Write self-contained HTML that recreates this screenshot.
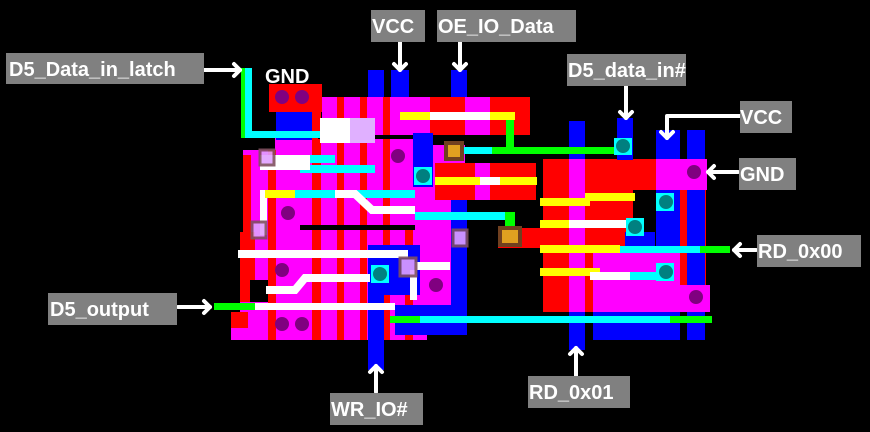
<!DOCTYPE html>
<html><head><meta charset="utf-8"><style>
html,body{margin:0;padding:0;background:#000;width:870px;height:432px;overflow:hidden}
svg{display:block}
.lb{fill:#808080}
.t{font-family:"Liberation Sans",sans-serif;font-weight:bold;font-size:20px;fill:#fff}
</style></head><body>
<svg width="870" height="432" viewBox="0 0 870 432" xmlns="http://www.w3.org/2000/svg">
<rect width="870" height="432" fill="#000"/>
<!-- blue verticals (above block) -->
<rect x="368" y="70" width="16" height="300" fill="#00f"/>
<rect x="391" y="70" width="18" height="30" fill="#00f"/>
<rect x="451" y="70" width="16" height="30" fill="#00f"/>
<!-- LEFT BLOCK base -->
<g>
<rect x="269" y="84" width="53" height="28" fill="#f00"/>
<rect x="322" y="97" width="208" height="38" fill="#f0f"/>
<rect x="430" y="97" width="100" height="38" fill="#f00"/>
<rect x="465" y="97" width="25" height="38" fill="#f0f"/>
<rect x="243" y="150" width="180" height="85" fill="#f0f"/>
<rect x="275" y="135" width="150" height="20" fill="#f0f"/>
<rect x="415" y="145" width="50" height="55" fill="#f0f"/>
<rect x="435" y="163" width="101" height="37" fill="#f00"/>
<rect x="475" y="163" width="15" height="37" fill="#f0f"/>
<rect x="415" y="200" width="50" height="40" fill="#f0f"/>
<rect x="240" y="232" width="225" height="80" fill="#f0f"/>
<rect x="231" y="312" width="196" height="28" fill="#f0f"/>
<rect x="231" y="312" width="17" height="16" fill="#f00"/>
<rect x="240" y="232" width="15" height="70" fill="#f00"/>
<rect x="243" y="155" width="8" height="80" fill="#f00"/>
<!-- red stripes -->
<rect x="268" y="150" width="8" height="190" fill="#f00"/>
<rect x="312" y="97" width="9" height="243" fill="#f00"/>
<rect x="337" y="97" width="7" height="243" fill="#f00"/>
<rect x="360" y="97" width="7" height="243" fill="#f00"/>
<rect x="383" y="97" width="7" height="243" fill="#f00"/>
<rect x="405" y="230" width="8" height="110" fill="#f00"/>
<rect x="276" y="112" width="36" height="28" fill="#00f"/>
<!-- black gaps -->
<rect x="300" y="225" width="115" height="5" fill="#000"/>
<rect x="318" y="135" width="120" height="4" fill="#000"/>
<rect x="250" y="280" width="18" height="22" fill="#000"/>
</g>
<!-- blue inside left block -->
<rect x="368" y="245" width="16" height="125" fill="#00f"/>
<rect x="451" y="200" width="16" height="135" fill="#00f"/>
<rect x="413" y="133" width="20" height="54" fill="#00f"/>
<rect x="395" y="305" width="72" height="30" fill="#00f"/>
<rect x="370" y="245" width="50" height="50" fill="#00f"/>
<rect x="420" y="250" width="30" height="50" fill="#f0f"/>
<!-- RIGHT BLOCK -->
<rect x="543" y="159" width="163" height="153" fill="#f00"/>
<rect x="569" y="121" width="16" height="229" fill="#00f"/>
<rect x="569" y="159" width="16" height="153" fill="#f0f"/>
<rect x="633" y="190" width="24" height="58" fill="#000"/>
<rect x="656" y="159" width="51" height="31" fill="#f0f"/>
<rect x="656" y="130" width="24" height="152" fill="#00f"/>
<rect x="656" y="159" width="24" height="31" fill="#f0f"/>
<rect x="687" y="130" width="18" height="210" fill="#00f"/>
<rect x="687" y="159" width="18" height="31" fill="#f0f"/>
<rect x="617" y="118" width="16" height="42" fill="#00f"/>
<rect x="593" y="250" width="87" height="62" fill="#f0f"/>
<rect x="680" y="285" width="30" height="27" fill="#f0f"/>
<rect x="593" y="312" width="87" height="28" fill="#00f"/>
<rect x="625" y="232" width="30" height="18" fill="#00f"/>
<!-- connection red between -->
<rect x="498" y="228" width="45" height="20" fill="#f00"/>
<!-- green/cyan lines -->
<g fill="#0f0">
<rect x="245" y="68" width="7" height="70" fill="#0ff"/>
<rect x="241" y="68" width="4" height="70"/>
<rect x="245" y="131" width="75" height="7" fill="#0ff"/>
<rect x="480" y="147" width="140" height="7"/>
<rect x="506" y="112" width="8" height="40"/>
<rect x="462" y="147" width="30" height="7" fill="#0ff"/>
<rect x="415" y="212" width="100" height="8" fill="#0ff"/>
<rect x="505" y="212" width="10" height="25"/>
<rect x="620" y="246" width="110" height="7"/>
<rect x="620" y="246" width="80" height="7" fill="#0ff"/>
<rect x="214" y="303" width="50" height="7"/>
<rect x="255" y="303" width="140" height="7" fill="#fff"/>
<rect x="390" y="316" width="322" height="7"/>
<rect x="420" y="316" width="250" height="7" fill="#0ff"/>
<rect x="300" y="165" width="75" height="8" fill="#0ff"/>
<rect x="295" y="190" width="120" height="8" fill="#0ff"/>
<rect x="265" y="155" width="70" height="8" fill="#0ff"/>
</g>
<!-- white/yellow lines -->
<g>
<rect x="400" y="112" width="115" height="8" fill="#ff0"/>
<rect x="430" y="112" width="60" height="8" fill="#fff"/>
<rect x="320" y="118" width="50" height="25" fill="#fff"/>
<rect x="350" y="118" width="25" height="25" fill="#e0b0ff"/>
<rect x="260" y="155" width="50" height="15" fill="#fff"/>
<rect x="435" y="177" width="102" height="8" fill="#ff0"/>
<rect x="480" y="177" width="20" height="8" fill="#fff"/>
<rect x="260" y="190" width="7" height="45" fill="#fff"/>
<rect x="265" y="190" width="30" height="8" fill="#ff0"/>
<polyline points="335,194 355,194 372,210 415,210" stroke="#fff" stroke-width="8" fill="none"/>
<rect x="238" y="250" width="170" height="8" fill="#fff"/>
<polyline points="266,290 295,290 305,278 370,278" stroke="#fff" stroke-width="8" fill="none"/>
<rect x="415" y="262" width="35" height="8" fill="#fff"/>
<rect x="410" y="270" width="7" height="30" fill="#fff"/>
<rect x="540" y="198" width="50" height="8" fill="#ff0"/>
<rect x="585" y="193" width="50" height="8" fill="#ff0"/>
<rect x="540" y="220" width="95" height="8" fill="#ff0"/>
<rect x="569" y="220" width="60" height="8" fill="#fff"/>
<rect x="540" y="245" width="80" height="8" fill="#ff0"/>
<rect x="540" y="268" width="60" height="8" fill="#ff0"/>
<rect x="590" y="272" width="40" height="8" fill="#fff"/>
<rect x="630" y="272" width="30" height="8" fill="#0ff"/>
</g>
<!-- vias (orange) -->
<g fill="#e0a020" stroke="#704020" stroke-width="4">
<rect x="446" y="143" width="16" height="16"/>
<rect x="500" y="228" width="20" height="17"/>
</g>
<g fill="#e0a0ff" stroke="#805060" stroke-width="3" opacity="0.9">
<rect x="252" y="222" width="14" height="16"/>
<rect x="453" y="230" width="14" height="16"/>
<rect x="400" y="258" width="16" height="18"/>
<rect x="260" y="150" width="14" height="15"/>
</g>
<!-- contacts purple -->
<g fill="#800080">
<circle cx="282" cy="97" r="7"/><circle cx="302" cy="97" r="7"/>
<circle cx="398" cy="156" r="7"/>
<circle cx="288" cy="213" r="7"/>
<circle cx="282" cy="270" r="7"/>
<circle cx="436" cy="285" r="7"/>
<circle cx="282" cy="324" r="7"/><circle cx="302" cy="324" r="7"/>
<circle cx="694" cy="172" r="7"/>
<circle cx="696" cy="297" r="7"/>
</g>
<!-- contacts teal -->
<g>
<rect x="414" y="167" width="18" height="18" fill="#0ff"/><circle cx="423" cy="176" r="7" fill="#008080"/>
<rect x="371" y="265" width="18" height="18" fill="#0ff"/><circle cx="380" cy="274" r="7" fill="#008080"/>
<rect x="614" y="138" width="18" height="17" fill="#0ff"/><circle cx="623" cy="146" r="7" fill="#008080"/>
<rect x="656" y="193" width="18" height="18" fill="#0ff"/><circle cx="666" cy="202" r="7" fill="#008080"/>
<rect x="626" y="218" width="18" height="18" fill="#0ff"/><circle cx="635" cy="227" r="7" fill="#008080"/>
<rect x="656" y="263" width="18" height="18" fill="#0ff"/><circle cx="666" cy="272" r="7" fill="#008080"/>
</g>
<!-- arrows -->
<g stroke="#fff" stroke-width="4" fill="none" stroke-linecap="round" stroke-linejoin="round">
<line x1="204" y1="70" x2="240" y2="70"/><polyline points="234,64 240,70 234,76"/>
<line x1="400" y1="42" x2="400" y2="70"/><polyline points="394,64 400,70 406,64"/>
<line x1="460" y1="42" x2="460" y2="70"/><polyline points="454,64 460,70 466,64"/>
<line x1="626" y1="86" x2="626" y2="118"/><polyline points="620,112 626,118 632,112"/>
<polyline points="740,116 667,116 667,138"/><polyline points="661,132 667,138 673,132"/>
<line x1="738" y1="172" x2="708" y2="172"/><polyline points="714,166 708,172 714,178"/>
<line x1="756" y1="250" x2="734" y2="250"/><polyline points="740,244 734,250 740,256"/>
<line x1="178" y1="307" x2="210" y2="307"/><polyline points="204,301 210,307 204,313"/>
<line x1="376" y1="392" x2="376" y2="366"/><polyline points="370,372 376,366 382,372"/>
<line x1="576" y1="376" x2="576" y2="348"/><polyline points="570,354 576,348 582,354"/>
</g>
<!-- labels -->
<rect class="lb" x="6" y="53" width="198" height="31"/><text class="t" x="9" y="76">D5_Data_in_latch</text>
<text class="t" x="265" y="83">GND</text>
<rect class="lb" x="371" y="10" width="54" height="32"/><text class="t" x="372" y="33">VCC</text>
<rect class="lb" x="437" y="10" width="139" height="32"/><text class="t" x="438" y="33">OE_IO_Data</text>
<rect class="lb" x="567" y="54" width="119" height="32"/><text class="t" x="568" y="77">D5_data_in#</text>
<rect class="lb" x="740" y="101" width="52" height="32"/><text class="t" x="740" y="124">VCC</text>
<rect class="lb" x="739" y="158" width="57" height="32"/><text class="t" x="740" y="181">GND</text>
<rect class="lb" x="757" y="235" width="104" height="32"/><text class="t" x="758" y="258">RD_0x00</text>
<rect class="lb" x="48" y="293" width="129" height="32"/><text class="t" x="50" y="316">D5_output</text>
<rect class="lb" x="330" y="393" width="93" height="32"/><text class="t" x="331" y="416">WR_IO#</text>
<rect class="lb" x="528" y="376" width="102" height="32"/><text class="t" x="529" y="399">RD_0x01</text>
</svg>
</body></html>
